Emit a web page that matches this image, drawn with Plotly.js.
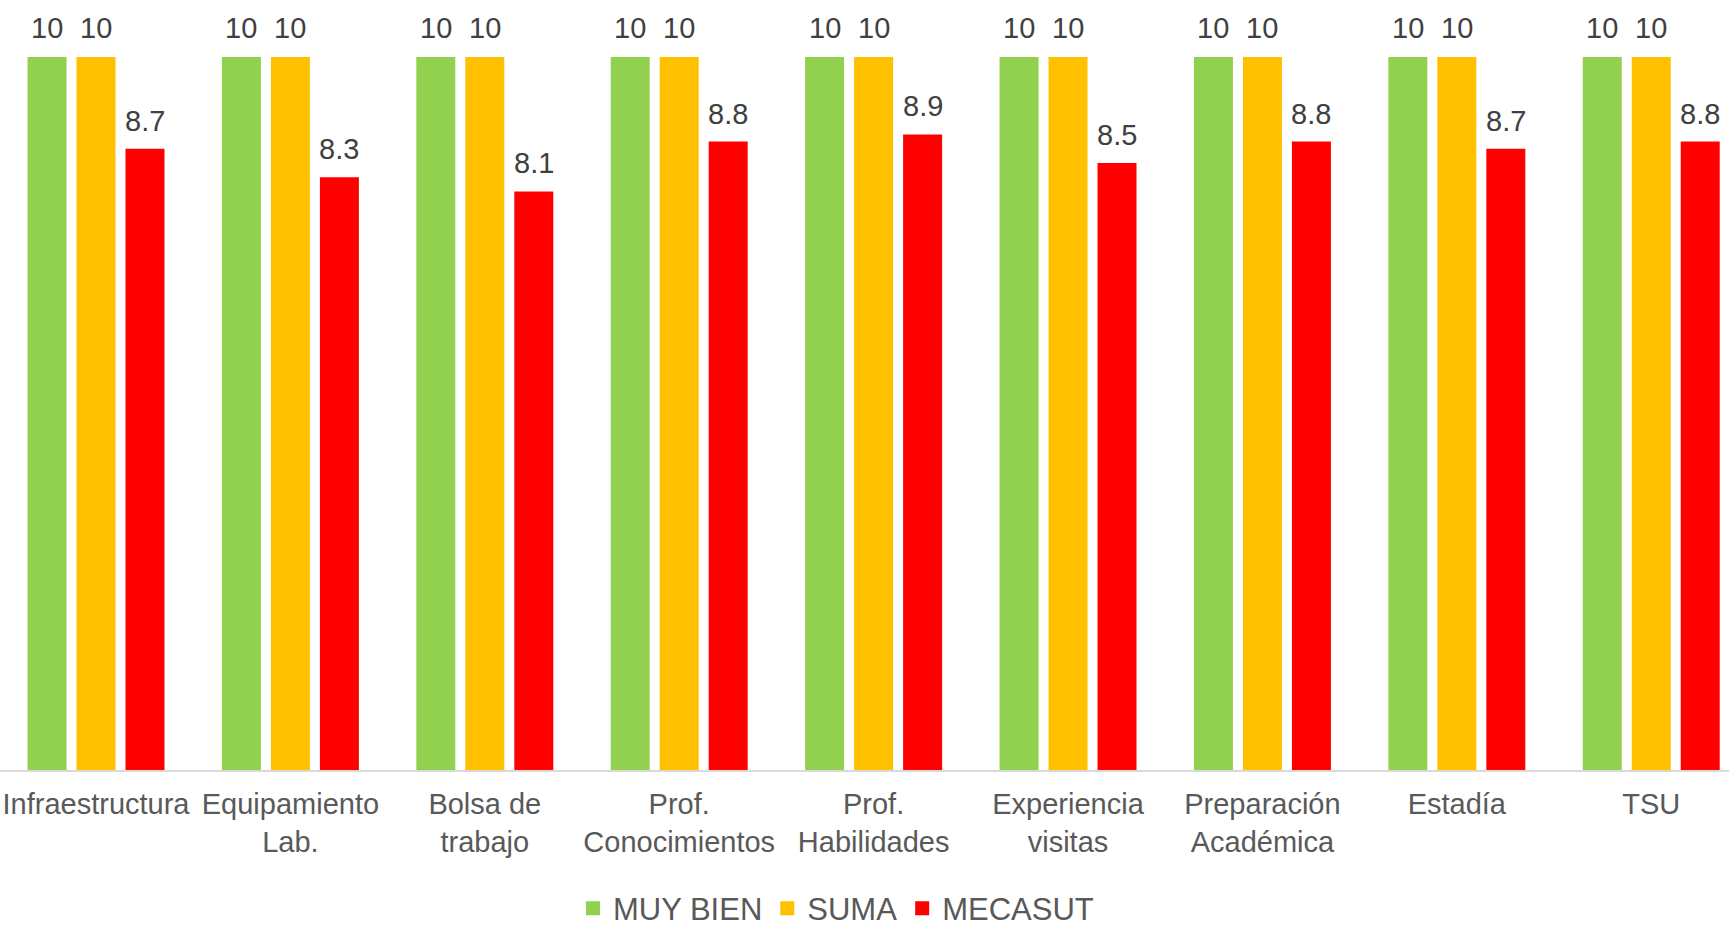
<!DOCTYPE html>
<html>
<head>
<meta charset="utf-8">
<script src="https://cdn.plot.ly/plotly-3.0.1.min.js"></script>
<style>
  html, body { margin: 0; padding: 0; background: #ffffff; }
  #chart { width: 1729px; height: 930px; }
</style>
</head>
<body>
<div id="chart"></div>
<script>
// ---- data ----
const categories = ["Infraestructura", "Equipamiento Lab.", "Bolsa de trabajo", "Prof. Conocimientos",
  "Prof. Habilidades", "Experiencia visitas", "Preparación Académica", "Estadía", "TSU"];
const tickLabels = ["Infraestructura", "Equipamiento<br>Lab.", "Bolsa de<br>trabajo", "Prof.<br>Conocimientos",
  "Prof.<br>Habilidades", "Experiencia<br>visitas", "Preparación<br>Académica", "Estadía", "TSU"];
const seriesNames = ["MUY BIEN", "SUMA", "MECASUT"];
const muyBien = [10, 10, 10, 10, 10, 10, 10, 10, 10];
const suma = [10, 10, 10, 10, 10, 10, 10, 10, 10];
const mecasut = [8.7, 8.3, 8.1, 8.8, 8.9, 8.5, 8.8, 8.7, 8.8];

// ---- style ----
const colors = ["#92D050", "#FFC000", "#FF0000"];
const FONT = "Liberation Sans, Arial, sans-serif";
const bargap = 0.244;
const bargroupgap = 0.245;

const seriesValues = [muyBien, suma, mecasut];
const traces = seriesValues.map((vals, i) => ({
  type: "bar",
  name: seriesNames[i],
  x: categories,
  y: vals,
  marker: { color: colors[i], line: { color: colors[i], width: 2 } },
  hoverinfo: "x+y+name"
}));

// data labels placed at each bar's top through the axes
const slot = (1 - bargap) / seriesValues.length;
const annotations = [];
seriesValues.forEach((vals, i) => {
  vals.forEach((v, j) => {
    annotations.push({
      x: j + (i - (seriesValues.length - 1) / 2) * slot,
      y: v,
      xref: "x", yref: "y",
      text: String(v),
      showarrow: false,
      xanchor: "center",
      yanchor: "bottom",
      yshift: 11,
      font: { family: FONT, size: 29, color: "#404040" }
    });
  });
});

const layout = {
  width: 1729,
  height: 930,
  margin: { l: 0, r: 0, t: 57, b: 160, pad: 0 },
  paper_bgcolor: "#ffffff",
  plot_bgcolor: "#ffffff",
  barmode: "group",
  bargap: bargap,
  bargroupgap: bargroupgap,
  font: { family: FONT, color: "#595959" },
  xaxis: {
    type: "category",
    range: [-0.4938, 8.400],
    tickvals: categories,
    ticktext: tickLabels,
    tickfont: { family: FONT, size: 29, color: "#595959" },
    ticks: "",
    showgrid: false,
    zeroline: false,
    showline: true,
    linecolor: "#D9D9D9",
    linewidth: 1.5,
    ticklabelstandoff: 8,
    fixedrange: true
  },
  yaxis: {
    range: [0, 10],
    visible: false,
    showgrid: false,
    zeroline: false,
    fixedrange: true
  },
  showlegend: true,
  legend: {
    orientation: "h",
    x: 573 / 1729,
    xanchor: "left",
    xref: "paper",
    y: 0.023,
    yref: "container",
    yanchor: "middle",
    font: { family: FONT, size: 31, color: "#595959" },
    bgcolor: "rgba(0,0,0,0)",
    itemclick: false,
    itemdoubleclick: false
  },
  annotations: annotations
};

Plotly.newPlot("chart", traces, layout, { displayModeBar: false, staticPlot: true });
</script>
</body>
</html>
